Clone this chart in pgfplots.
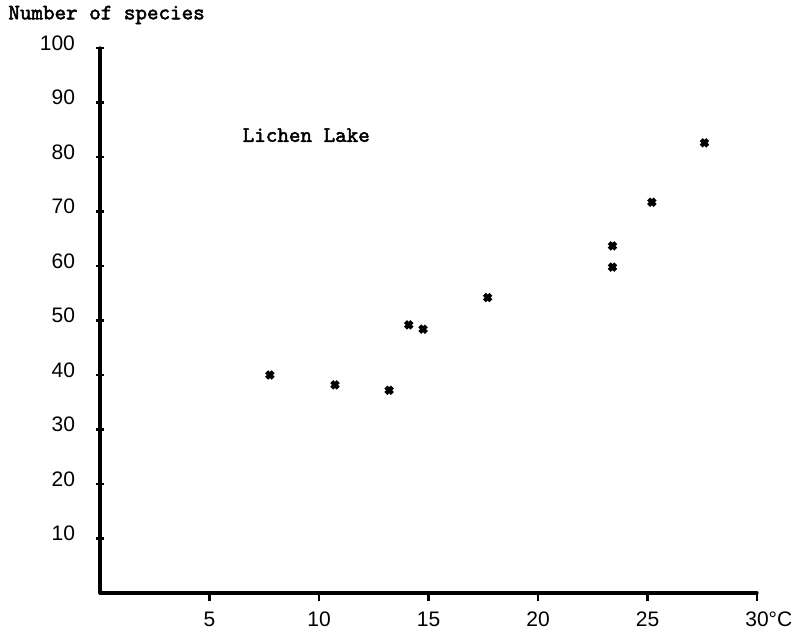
\documentclass[border=0pt]{standalone}
\usepackage{fontspec}
\setmainfont{Liberation Sans}
\newfontfamily\twfont{Latin Modern Mono}[FakeBold=2.2]
\usepackage{pgfplots}
\pgfplotsset{compat=1.18}
\begin{document}
\begin{tikzpicture}
\begin{axis}[
  scale only axis,
  width=328.5pt, height=272.5pt,
  xmin=0, xmax=30, ymin=0, ymax=100,
  axis x line=bottom, axis y line=left,
  separate axis lines,
  axis line style={-, line width=1.6pt},
  every outer x axis line/.append style={-, line width=1.6pt, line cap=round},
  every outer y axis line/.append style={-, line width=1.6pt, line cap=round},
  xtick={5,10,15,20,25,30},
  xticklabels={5,10,15,20,25,30\rlap{°C}},
  ytick={10,20,...,100},
  major tick length=4pt,
  xtick align=outside,
  ytick align=center,
  tick style={line width=1.3pt, black},
  /pgf/number format/assume math mode=true,
  tick label style={font=\fontsize{10.5}{12}\selectfont},
  xticklabel style={yshift=-2pt},
  yticklabel style={xshift=-7pt, yshift=2.5pt},
  clip=false,
]
\addplot[only marks, mark=x, mark size=2.3pt, line width=2.1pt, black] coordinates {
  (7.76,40.0) (10.73,38.2) (13.2,37.2) (14.1,49.2) (14.75,48.4)
  (17.7,54.2) (23.4,63.7) (23.4,59.8) (25.2,71.7) (27.6,82.6)
};
\node[anchor=west, font=\twfont\fontsize{11}{13}\selectfont, inner sep=0pt] at (axis cs:6.5,84) {Lichen Lake};
\node[anchor=west, font=\twfont\fontsize{11}{13}\selectfont, inner sep=0pt] at ([xshift=-46pt,yshift=16.5pt]rel axis cs:0,1) {Number of species};
\coordinate (ll) at (rel axis cs:0,0);
\coordinate (ur) at (rel axis cs:1,1);
\end{axis}
\pgfresetboundingbox
\useasboundingbox ([shift={(-50pt,-23.5pt)}]ll) rectangle ([shift={(18pt,24pt)}]ur);
\end{tikzpicture}
\end{document}
